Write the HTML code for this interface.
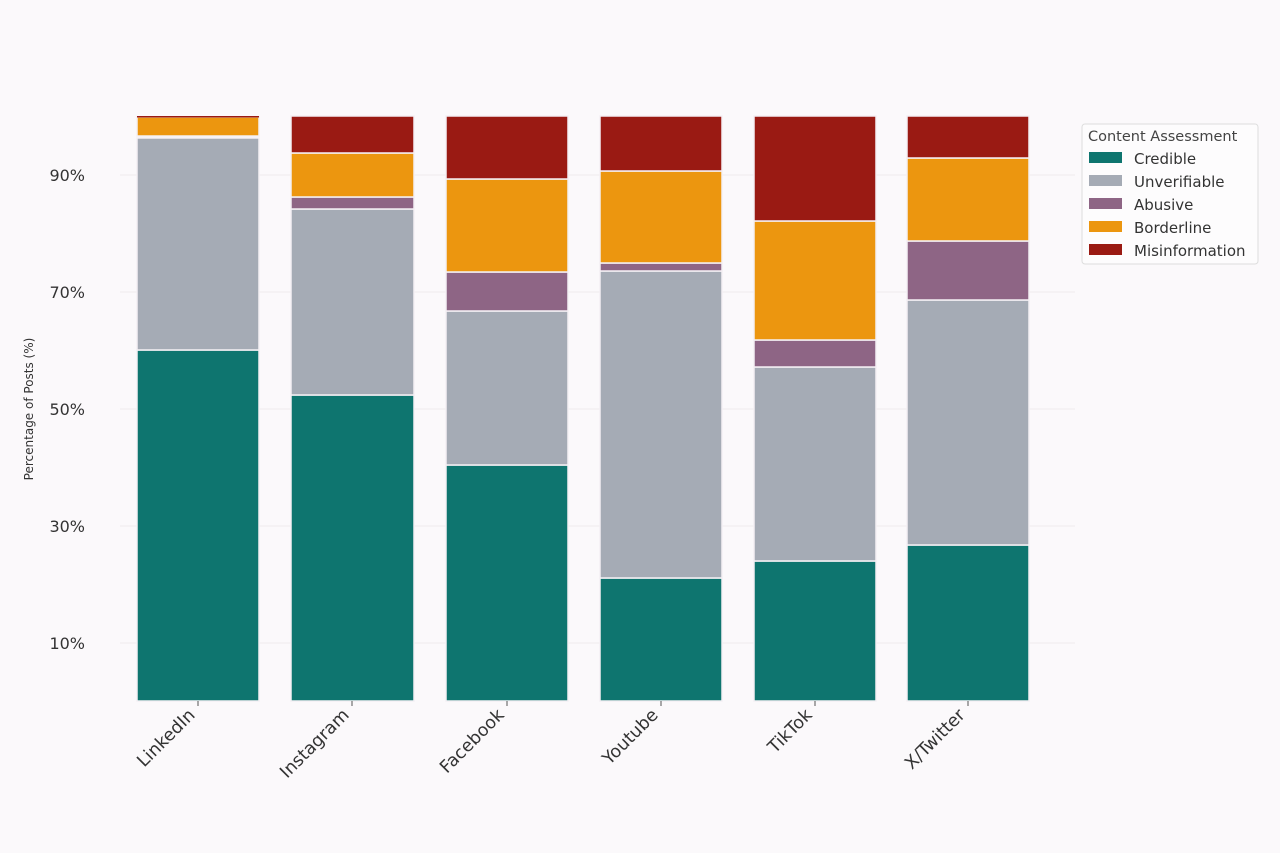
<!DOCTYPE html>
<html><head><style>
body{margin:0;background:#fbf9fb;}
svg{display:block;font-family:"DejaVu Sans","Liberation Sans",sans-serif;}
</style></head><body>
<svg width="1280" height="853" viewBox="0 0 1280 853">
<rect width="1280" height="853" fill="#fbf9fb"/>
<g stroke="#efeaee" stroke-width="1">
<line x1="120" x2="1075" y1="175" y2="175"/>
<line x1="120" x2="1075" y1="292" y2="292"/>
<line x1="120" x2="1075" y1="409" y2="409"/>
<line x1="120" x2="1075" y1="526" y2="526"/>
<line x1="120" x2="1075" y1="643" y2="643"/>
</g>
<g font-size="16" fill="#333" text-anchor="end">
<text x="85" y="181">90%</text><text x="85" y="298">70%</text><text x="85" y="415">50%</text><text x="85" y="532">30%</text><text x="85" y="649">10%</text>
</g>
<text transform="translate(33,409) rotate(-90)" font-size="12" fill="#333" text-anchor="middle">Percentage of Posts (%)</text>
<g stroke="#f4f0f4" stroke-width="1.5">
<rect x="137" y="350" width="122" height="351" fill="#0e756f"/>
<rect x="137" y="138" width="122" height="212" fill="#a5abb5"/>
<rect x="137" y="117" width="122" height="19" fill="#ec960f"/>
<rect x="137" y="116" width="122" height="1.5" fill="#9a1a13" stroke="none"/>
<rect x="291" y="395" width="123" height="306" fill="#0e756f"/>
<rect x="291" y="209" width="123" height="186" fill="#a5abb5"/>
<rect x="291" y="197" width="123" height="12" fill="#8e6585"/>
<rect x="291" y="153" width="123" height="44" fill="#ec960f"/>
<rect x="291" y="116" width="123" height="37" fill="#9a1a13"/>
<rect x="446" y="465" width="122" height="236" fill="#0e756f"/>
<rect x="446" y="311" width="122" height="154" fill="#a5abb5"/>
<rect x="446" y="272" width="122" height="39" fill="#8e6585"/>
<rect x="446" y="179" width="122" height="93" fill="#ec960f"/>
<rect x="446" y="116" width="122" height="63" fill="#9a1a13"/>
<rect x="600" y="578" width="122" height="123" fill="#0e756f"/>
<rect x="600" y="271" width="122" height="307" fill="#a5abb5"/>
<rect x="600" y="263" width="122" height="8" fill="#8e6585"/>
<rect x="600" y="171" width="122" height="92" fill="#ec960f"/>
<rect x="600" y="116" width="122" height="55" fill="#9a1a13"/>
<rect x="754" y="561" width="122" height="140" fill="#0e756f"/>
<rect x="754" y="367" width="122" height="194" fill="#a5abb5"/>
<rect x="754" y="340" width="122" height="27" fill="#8e6585"/>
<rect x="754" y="221" width="122" height="119" fill="#ec960f"/>
<rect x="754" y="116" width="122" height="105" fill="#9a1a13"/>
<rect x="907" y="545" width="122" height="156" fill="#0e756f"/>
<rect x="907" y="300" width="122" height="245" fill="#a5abb5"/>
<rect x="907" y="241" width="122" height="59" fill="#8e6585"/>
<rect x="907" y="158" width="122" height="83" fill="#ec960f"/>
<rect x="907" y="116" width="122" height="42" fill="#9a1a13"/>
</g>
<g stroke="#555" stroke-width="1">
<line x1="198" x2="198" y1="701" y2="706"/><line x1="352" x2="352" y1="701" y2="706"/><line x1="507" x2="507" y1="701" y2="706"/><line x1="661" x2="661" y1="701" y2="706"/><line x1="815" x2="815" y1="701" y2="706"/><line x1="968" x2="968" y1="701" y2="706"/>
</g>
<g font-size="17.5" fill="#333" text-anchor="end">
<text transform="translate(196,716) rotate(-45)">LinkedIn</text>
<text transform="translate(350,716) rotate(-45)">Instagram</text>
<text transform="translate(505,716) rotate(-45)">Facebook</text>
<text transform="translate(659,716) rotate(-45)">Youtube</text>
<text transform="translate(813,716) rotate(-45)">TikTok</text>
<text transform="translate(966,716) rotate(-45)">X/Twitter</text>
</g>
<rect x="1082" y="124" width="176" height="140" rx="3" fill="#fdfcfd" stroke="#ddd"/>
<text x="1088" y="141" font-size="14.5" fill="#444">Content Assessment</text>
<g font-size="15" fill="#333">
<rect x="1089" y="152" width="33" height="11" fill="#0e756f"/><text x="1134" y="164">Credible</text>
<rect x="1089" y="175" width="33" height="11" fill="#a5abb5"/><text x="1134" y="187">Unverifiable</text>
<rect x="1089" y="198" width="33" height="11" fill="#8e6585"/><text x="1134" y="210">Abusive</text>
<rect x="1089" y="221" width="33" height="11" fill="#ec960f"/><text x="1134" y="233">Borderline</text>
<rect x="1089" y="244" width="33" height="11" fill="#9a1a13"/><text x="1134" y="256">Misinformation</text>
</g>
</svg>
</body></html>
